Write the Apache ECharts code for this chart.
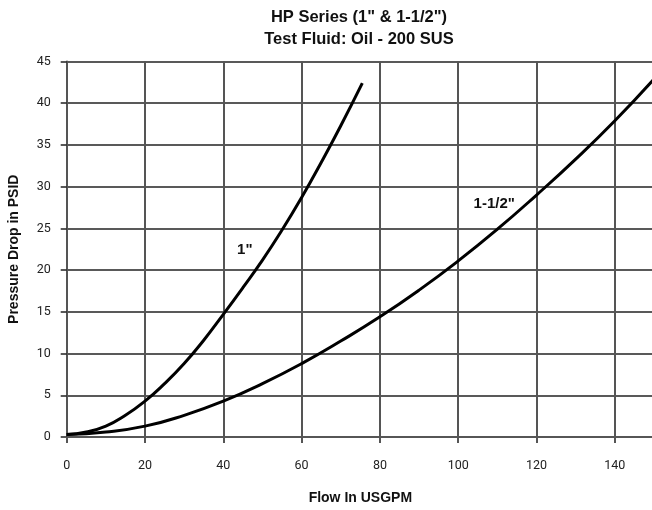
<!DOCTYPE html>
<html>
<head>
<meta charset="utf-8">
<script src="https://cdn.jsdelivr.net/npm/echarts@6/dist/echarts.min.js"></script>
<style>html,body{margin:0;padding:0;background:#fff}#c{width:652px;height:510px}</style>
</head>
<body>
<div id="c"></div>
<script>
// Flow (USGPM) vs Pressure drop (PSID)
const flow1 = [0, 5, 10, 15, 20, 25, 30, 35, 40, 45, 50, 55, 60, 65, 70, 75.5];
const psid1 = [0.3, 0.6, 1.3, 2.6, 4.3, 6.4, 8.8, 11.6, 14.7, 17.9, 21.2, 24.8, 28.7, 32.9, 37.3, 42.4];
const flow15 = [0, 10, 20, 30, 40, 50, 60, 70, 80, 90, 100, 110, 120, 130, 140, 150];
const psid15 = [0.3, 0.6, 1.3, 2.6, 4.3, 6.4, 8.8, 11.5, 14.4, 17.6, 21.1, 24.9, 29.0, 33.3, 37.9, 42.9];
const xTicks = [0, 20, 40, 60, 80, 100, 120, 140];
const yTicks = [0, 5, 10, 15, 20, 25, 30, 35, 40, 45];
const seriesNames = ['1"', '1-1/2"'];
const titleLines = ['HP Series (1" & 1-1/2")', 'Test Fluid: Oil - 200 SUS'];
const xName = 'Flow In USGPM';
const yName = 'Pressure Drop in PSID';

const pairs = (xs, ys) => xs.map((x, i) => [x, ys[i]]);
const chart = echarts.init(document.getElementById('c'), null, {renderer: 'canvas'});
const tickFont = {fontFamily: 'Roboto', fontSize: 12.5, color: '#222'};
const boldFont = {fontFamily: 'Liberation Sans', fontWeight: 'bold', color: '#111'};
chart.setOption({
  animation: false,
  backgroundColor: '#fff',
  title: {
    text: titleLines.join('\n'),
    left: 354, top: 1, textAlign: 'center',
    textStyle: Object.assign({fontSize: 16.5, lineHeight: 22.5}, boldFont)
  },
  grid: {left: 66.7, top: 61.5, right: -2, bottom: 73, containLabel: false, outerBoundsMode: 'none'},
  xAxis: {
    type: 'value', min: 0, max: 150, interval: 20,
    name: xName, nameLocation: 'middle', nameGap: 54,
    nameTextStyle: Object.assign({fontSize: 14}, boldFont),
    axisLine: {show: true, lineStyle: {color: '#555', width: 1.5}},
    axisTick: {show: true, length: 6, lineStyle: {color: '#555', width: 2}},
    axisLabel: Object.assign({margin: 22, formatter: v => xTicks.includes(v) ? String(v) : ''}, tickFont),
    splitLine: {show: true, lineStyle: {color: '#555', width: 2}}
  },
  yAxis: {
    type: 'value', min: 0, max: 45, interval: 5,
    name: yName, nameLocation: 'middle', nameGap: 46, nameRotate: 90,
    nameTextStyle: Object.assign({fontSize: 14}, boldFont),
    axisLine: {show: true, lineStyle: {color: '#555', width: 2}},
    axisTick: {show: true, length: 6, lineStyle: {color: '#222', width: 1.5}},
    axisLabel: Object.assign({margin: 16, formatter: v => yTicks.includes(v) ? String(v) : ''}, tickFont),
    splitLine: {show: true, lineStyle: {color: '#222', width: 1.5}}
  },
  series: [
    {
      name: seriesNames[0], type: 'line', data: pairs(flow1, psid1),
      smooth: 0.5, symbol: 'none', clip: false,
      lineStyle: {color: '#000', width: 3},
      markPoint: {
        symbol: 'circle', symbolSize: 0,
        label: Object.assign({show: true, formatter: seriesNames[0], fontSize: 15}, boldFont),
        data: [{coord: [45.5, 22.4]}]
      }
    },
    {
      name: seriesNames[1], type: 'line', data: pairs(flow15, psid15),
      smooth: 0.5, symbol: 'none',
      lineStyle: {color: '#000', width: 3},
      markPoint: {
        symbol: 'circle', symbolSize: 0,
        label: Object.assign({show: true, formatter: seriesNames[1], fontSize: 15}, boldFont),
        data: [{coord: [109.2, 27.9]}]
      }
    }
  ]
});
</script>
</body>
</html>
